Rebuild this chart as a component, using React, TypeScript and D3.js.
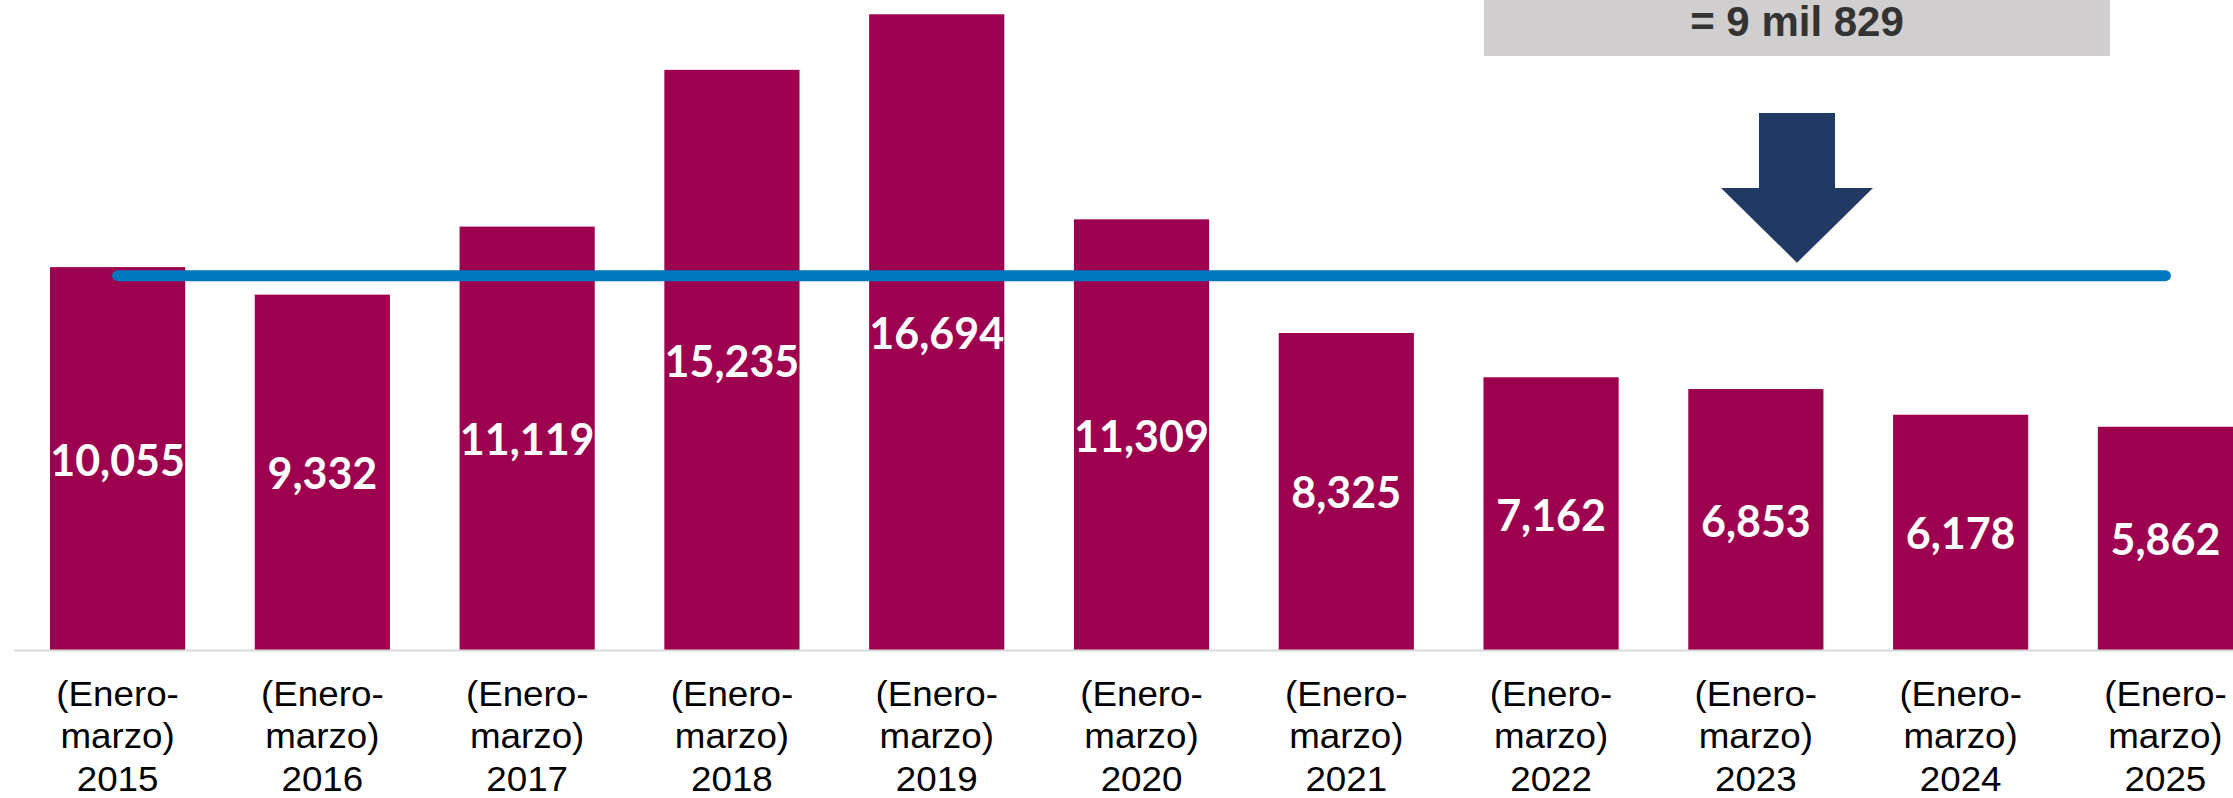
import React from 'react';
import * as d3 from 'd3';

const width = 2233;
const height = 798;

// datos: robos (enero-marzo) por año
const years = ['2015', '2016', '2017', '2018', '2019', '2020', '2021', '2022', '2023', '2024', '2025'];
const values = [10055, 9332, 11119, 15235, 16694, 11309, 8325, 7162, 6853, 6178, 5862];
const periodLines = ['(Enero-', 'marzo)'];
const average = 9829;
const averageLabel = '= 9 mil 829';

const baseY = 650;
const barColor = '#9d004f';
const lineColor = '#0077be';
const arrowColor = '#213a64';

const xScale = d3.scaleBand<string>().domain(years).range([50, 2233]).paddingInner(0.34).paddingOuter(0);
const yScale = d3.scaleLinear().domain([0, 16694]).range([baseY, 14.3]);
const fmt = d3.format(',');

// anotación (caja gris + flecha)
const boxX0 = 1484;
const boxX1 = 2110;
const boxBottom = 56;
const arrowCx = 1797;

export default function App() {
  const bw = xScale.bandwidth();
  const avgY = yScale(average);
  const cx = (y: string) => (xScale(y) as number) + bw / 2;

  const tipY = avgY - 13;
  const arrowPath = [
    [arrowCx - 38, 113],
    [arrowCx + 38, 113],
    [arrowCx + 38, 188],
    [arrowCx + 76, 188],
    [arrowCx, tipY],
    [arrowCx - 76, 188],
    [arrowCx - 38, 188],
  ];

  return (
    <svg width={width} height={height} style={{ position: 'absolute', left: 0, top: 0, background: '#fff' }}>
      {/* barras */}
      {years.map((y, i) => (
        <rect key={y} x={xScale(y)} y={yScale(values[i])} width={bw} height={baseY - yScale(values[i])} fill={barColor} />
      ))}

      {/* eje base */}
      <line x1={14} x2={width} y1={baseY + 0.5} y2={baseY + 0.5} stroke="#d9d9d9" strokeWidth={2} />

      {/* promedio */}
      <line
        x1={cx(years[0])}
        x2={cx(years[years.length - 1])}
        y1={avgY}
        y2={avgY}
        stroke={lineColor}
        strokeWidth={11}
        strokeLinecap="round"
      />

      {/* etiquetas de valor */}
      {years.map((y, i) => {
        const mid = (yScale(values[i]) + baseY) / 2;
        return (
          <text
            key={'v' + y}
            x={cx(y)}
            y={mid + 17}
            textAnchor="middle"
            fill="#fff"
            style={{ fontFamily: 'Lato, "Open Sans", sans-serif', fontWeight: 700, fontSize: 43 }}
          >
            {fmt(values[i])}
          </text>
        );
      })}

      {/* etiquetas del eje x (texto algo ensanchado como en el original) */}
      {years.map(y => (
        <text
          key={'x' + y}
          transform={`translate(${cx(y)},0) scale(1.05,1)`}
          textAnchor="middle"
          fill="#000"
          style={{ fontFamily: '"Liberation Sans", Arial, sans-serif', fontSize: 35 }}
        >
          <tspan x={0} y={706}>{periodLines[0]}</tspan>
          <tspan x={0} y={748}>{periodLines[1]}</tspan>
          <tspan x={0} y={791}>{y}</tspan>
        </text>
      ))}

      {/* caja del promedio */}
      <rect x={boxX0} y={-10} width={boxX1 - boxX0} height={boxBottom + 10} fill="#d0cece" />
      <text
        x={arrowCx}
        y={36}
        textAnchor="middle"
        fill="#333333"
        style={{ fontFamily: '"Liberation Sans", Arial, sans-serif', fontWeight: 700, fontSize: 42 }}
      >
        {averageLabel}
      </text>

      {/* flecha */}
      <polygon points={arrowPath.map(p => p.join(',')).join(' ')} fill={arrowColor} />
    </svg>
  );
}
